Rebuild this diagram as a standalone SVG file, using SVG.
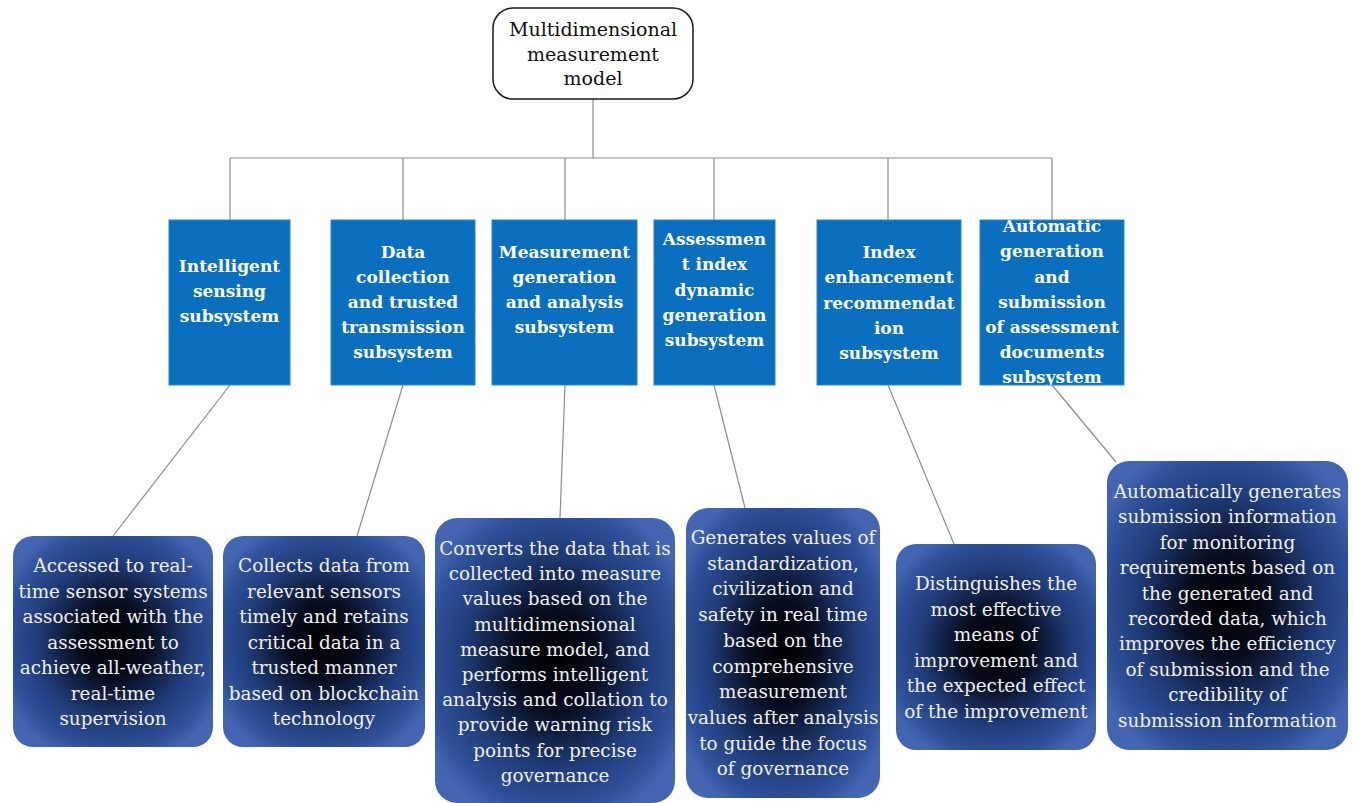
<svg xmlns="http://www.w3.org/2000/svg" width="1353" height="803" viewBox="0 0 1353 803">
  <style>
    .link { stroke: #8c8c8c; stroke-width: 1.2; fill: none; }
    .root { fill: #ffffff; stroke: #1a1a1a; stroke-width: 1.5; }
    .root-text { font-family: "DejaVu Serif", "Liberation Serif", serif; font-size: 19px; fill: #111; text-anchor: middle; }
    .sub { fill: #0b6fc0; stroke: #2f86cf; stroke-width: 1; }
    .sub-text { font-family: "DejaVu Serif", "Liberation Serif", serif; font-weight: bold; font-size: 17px; fill: #ffffff; text-anchor: middle; }
    .desc { fill: url(#glow); }
    .desc-text { font-family: "DejaVu Serif", "Liberation Serif", serif; font-size: 18.4px; fill: #f0f0f0; text-anchor: middle; }
  </style>
  <defs>
    <radialGradient id="glow" cx="0.5" cy="0.5" r="0.6">
      <stop offset="0" stop-color="#000000"/>
      <stop offset="0.3" stop-color="#070d1e"/>
      <stop offset="0.65" stop-color="#213e7c"/>
      <stop offset="0.88" stop-color="#2f529b"/>
      <stop offset="1" stop-color="#4466b2"/>
    </radialGradient>
    <clipPath id="clip6">
      <rect x="980" y="220" width="144" height="165"/>
    </clipPath>
  </defs>
  <rect width="1353" height="803" fill="#ffffff"/>

  <!-- connectors -->
  <g id="connectors">
    <line class="link" x1="593" y1="99" x2="593" y2="158"/>
    <line class="link" x1="230" y1="158" x2="1052" y2="158"/>
    <line class="link" x1="230" y1="158" x2="230" y2="220"/>
    <line class="link" x1="403" y1="158" x2="403" y2="220"/>
    <line class="link" x1="565" y1="158" x2="565" y2="220"/>
    <line class="link" x1="714" y1="158" x2="714" y2="220"/>
    <line class="link" x1="888" y1="158" x2="888" y2="220"/>
    <line class="link" x1="1052" y1="158" x2="1052" y2="220"/>
    <line class="link" x1="230" y1="385" x2="113" y2="536"/>
    <line class="link" x1="403" y1="385" x2="357" y2="536"/>
    <line class="link" x1="565" y1="385" x2="560" y2="518"/>
    <line class="link" x1="714" y1="385" x2="745" y2="508"/>
    <line class="link" x1="888" y1="385" x2="954" y2="544"/>
    <line class="link" x1="1052" y1="385" x2="1116" y2="462"/>
  </g>

  <!-- root -->
  <g id="root">
    <rect class="root" x="493" y="8" width="200" height="91" rx="20"/>
    <text class="root-text" x="593"><tspan x="593" y="36">Multidimensional</tspan><tspan x="593" y="61">measurement</tspan><tspan x="593" y="85">model</tspan></text>
  </g>

  <!-- subsystems -->
  <g id="sub-sensing">
    <rect class="sub" x="169" y="220" width="121" height="165"/>
    <text class="sub-text"><tspan x="229.5" y="272">Intelligent</tspan><tspan x="229.5" y="297">sensing</tspan><tspan x="229.5" y="322">subsystem</tspan></text>
  </g>
  <g id="sub-collection">
    <rect class="sub" x="331" y="220" width="144" height="165"/>
    <text class="sub-text"><tspan x="403" y="258">Data</tspan><tspan x="403" y="283">collection</tspan><tspan x="403" y="308">and trusted</tspan><tspan x="403" y="333">transmission</tspan><tspan x="403" y="358">subsystem</tspan></text>
  </g>
  <g id="sub-measurement">
    <rect class="sub" x="492" y="220" width="145" height="165"/>
    <text class="sub-text"><tspan x="564.5" y="258">Measurement</tspan><tspan x="564.5" y="283">generation</tspan><tspan x="564.5" y="308">and analysis</tspan><tspan x="564.5" y="333">subsystem</tspan></text>
  </g>
  <g id="sub-index">
    <rect class="sub" x="654" y="220" width="121" height="165"/>
    <text class="sub-text"><tspan x="714.5" y="245">Assessmen</tspan><tspan x="714.5" y="270">t index</tspan><tspan x="714.5" y="296">dynamic</tspan><tspan x="714.5" y="321">generation</tspan><tspan x="714.5" y="346">subsystem</tspan></text>
  </g>
  <g id="sub-recommend">
    <rect class="sub" x="817" y="220" width="144" height="165"/>
    <text class="sub-text"><tspan x="889" y="258">Index</tspan><tspan x="889" y="283">enhancement</tspan><tspan x="889" y="309">recommendat</tspan><tspan x="889" y="334">ion</tspan><tspan x="889" y="359">subsystem</tspan></text>
  </g>
  <g id="sub-documents">
    <rect class="sub" x="980" y="220" width="144" height="165"/>
    <g clip-path="url(#clip6)">
      <text class="sub-text"><tspan x="1052" y="232">Automatic</tspan><tspan x="1052" y="257">generation</tspan><tspan x="1052" y="283">and</tspan><tspan x="1052" y="308">submission</tspan><tspan x="1052" y="333">of assessment</tspan><tspan x="1052" y="358">documents</tspan><tspan x="1052" y="383">subsystem</tspan></text>
    </g>
  </g>

  <!-- descriptions -->
  <g id="desc-sensing">
    <rect class="desc" x="13" y="536" width="200" height="211" rx="20"/>
    <text class="desc-text"><tspan x="113" y="572">Accessed to real-</tspan><tspan x="113" y="597.5">time sensor systems</tspan><tspan x="113" y="623">associated with the</tspan><tspan x="113" y="648.5">assessment to</tspan><tspan x="113" y="674">achieve all-weather,</tspan><tspan x="113" y="699.5">real-time</tspan><tspan x="113" y="725">supervision</tspan></text>
  </g>
  <g id="desc-collection">
    <rect class="desc" x="223" y="536" width="202" height="211" rx="20"/>
    <text class="desc-text"><tspan x="324" y="572">Collects data from</tspan><tspan x="324" y="597.5">relevant sensors</tspan><tspan x="324" y="623">timely and retains</tspan><tspan x="324" y="648.5">critical data in a</tspan><tspan x="324" y="674">trusted manner</tspan><tspan x="324" y="699.5">based on blockchain</tspan><tspan x="324" y="725">technology</tspan></text>
  </g>
  <g id="desc-measurement">
    <rect class="desc" x="435" y="518" width="240" height="285" rx="22"/>
    <text class="desc-text"><tspan x="555" y="555">Converts the data that is</tspan><tspan x="555" y="580.2">collected into measure</tspan><tspan x="555" y="605.4">values based on the</tspan><tspan x="555" y="630.6">multidimensional</tspan><tspan x="555" y="655.8">measure model, and</tspan><tspan x="555" y="681">performs intelligent</tspan><tspan x="555" y="706.2">analysis and collation to</tspan><tspan x="555" y="731.4">provide warning risk</tspan><tspan x="555" y="756.6">points for precise</tspan><tspan x="555" y="781.8">governance</tspan></text>
  </g>
  <g id="desc-index">
    <rect class="desc" x="686" y="508" width="194" height="290" rx="22"/>
    <text class="desc-text"><tspan x="783" y="544">Generates values of</tspan><tspan x="783" y="569.7">standardization,</tspan><tspan x="783" y="595.4">civilization and</tspan><tspan x="783" y="621.1">safety in real time</tspan><tspan x="783" y="646.8">based on the</tspan><tspan x="783" y="672.5">comprehensive</tspan><tspan x="783" y="698.2">measurement</tspan><tspan x="783" y="723.9">values after analysis</tspan><tspan x="783" y="749.6">to guide the focus</tspan><tspan x="783" y="775.3">of governance</tspan></text>
  </g>
  <g id="desc-recommend">
    <rect class="desc" x="896" y="544" width="200" height="206" rx="20"/>
    <text class="desc-text"><tspan x="996" y="590">Distinguishes the</tspan><tspan x="996" y="615.6">most effective</tspan><tspan x="996" y="641.2">means of</tspan><tspan x="996" y="666.8">improvement and</tspan><tspan x="996" y="692.4">the expected effect</tspan><tspan x="996" y="718">of the improvement</tspan></text>
  </g>
  <g id="desc-documents">
    <rect class="desc" x="1107" y="461" width="241" height="289" rx="22"/>
    <text class="desc-text"><tspan x="1227.5" y="498">Automatically generates</tspan><tspan x="1227.5" y="523.4">submission information</tspan><tspan x="1227.5" y="548.8">for monitoring</tspan><tspan x="1227.5" y="574.2">requirements based on</tspan><tspan x="1227.5" y="599.6">the generated and</tspan><tspan x="1227.5" y="625">recorded data, which</tspan><tspan x="1227.5" y="650.4">improves the efficiency</tspan><tspan x="1227.5" y="675.8">of submission and the</tspan><tspan x="1227.5" y="701.2">credibility of</tspan><tspan x="1227.5" y="726.6">submission information</tspan></text>
  </g>
</svg>
